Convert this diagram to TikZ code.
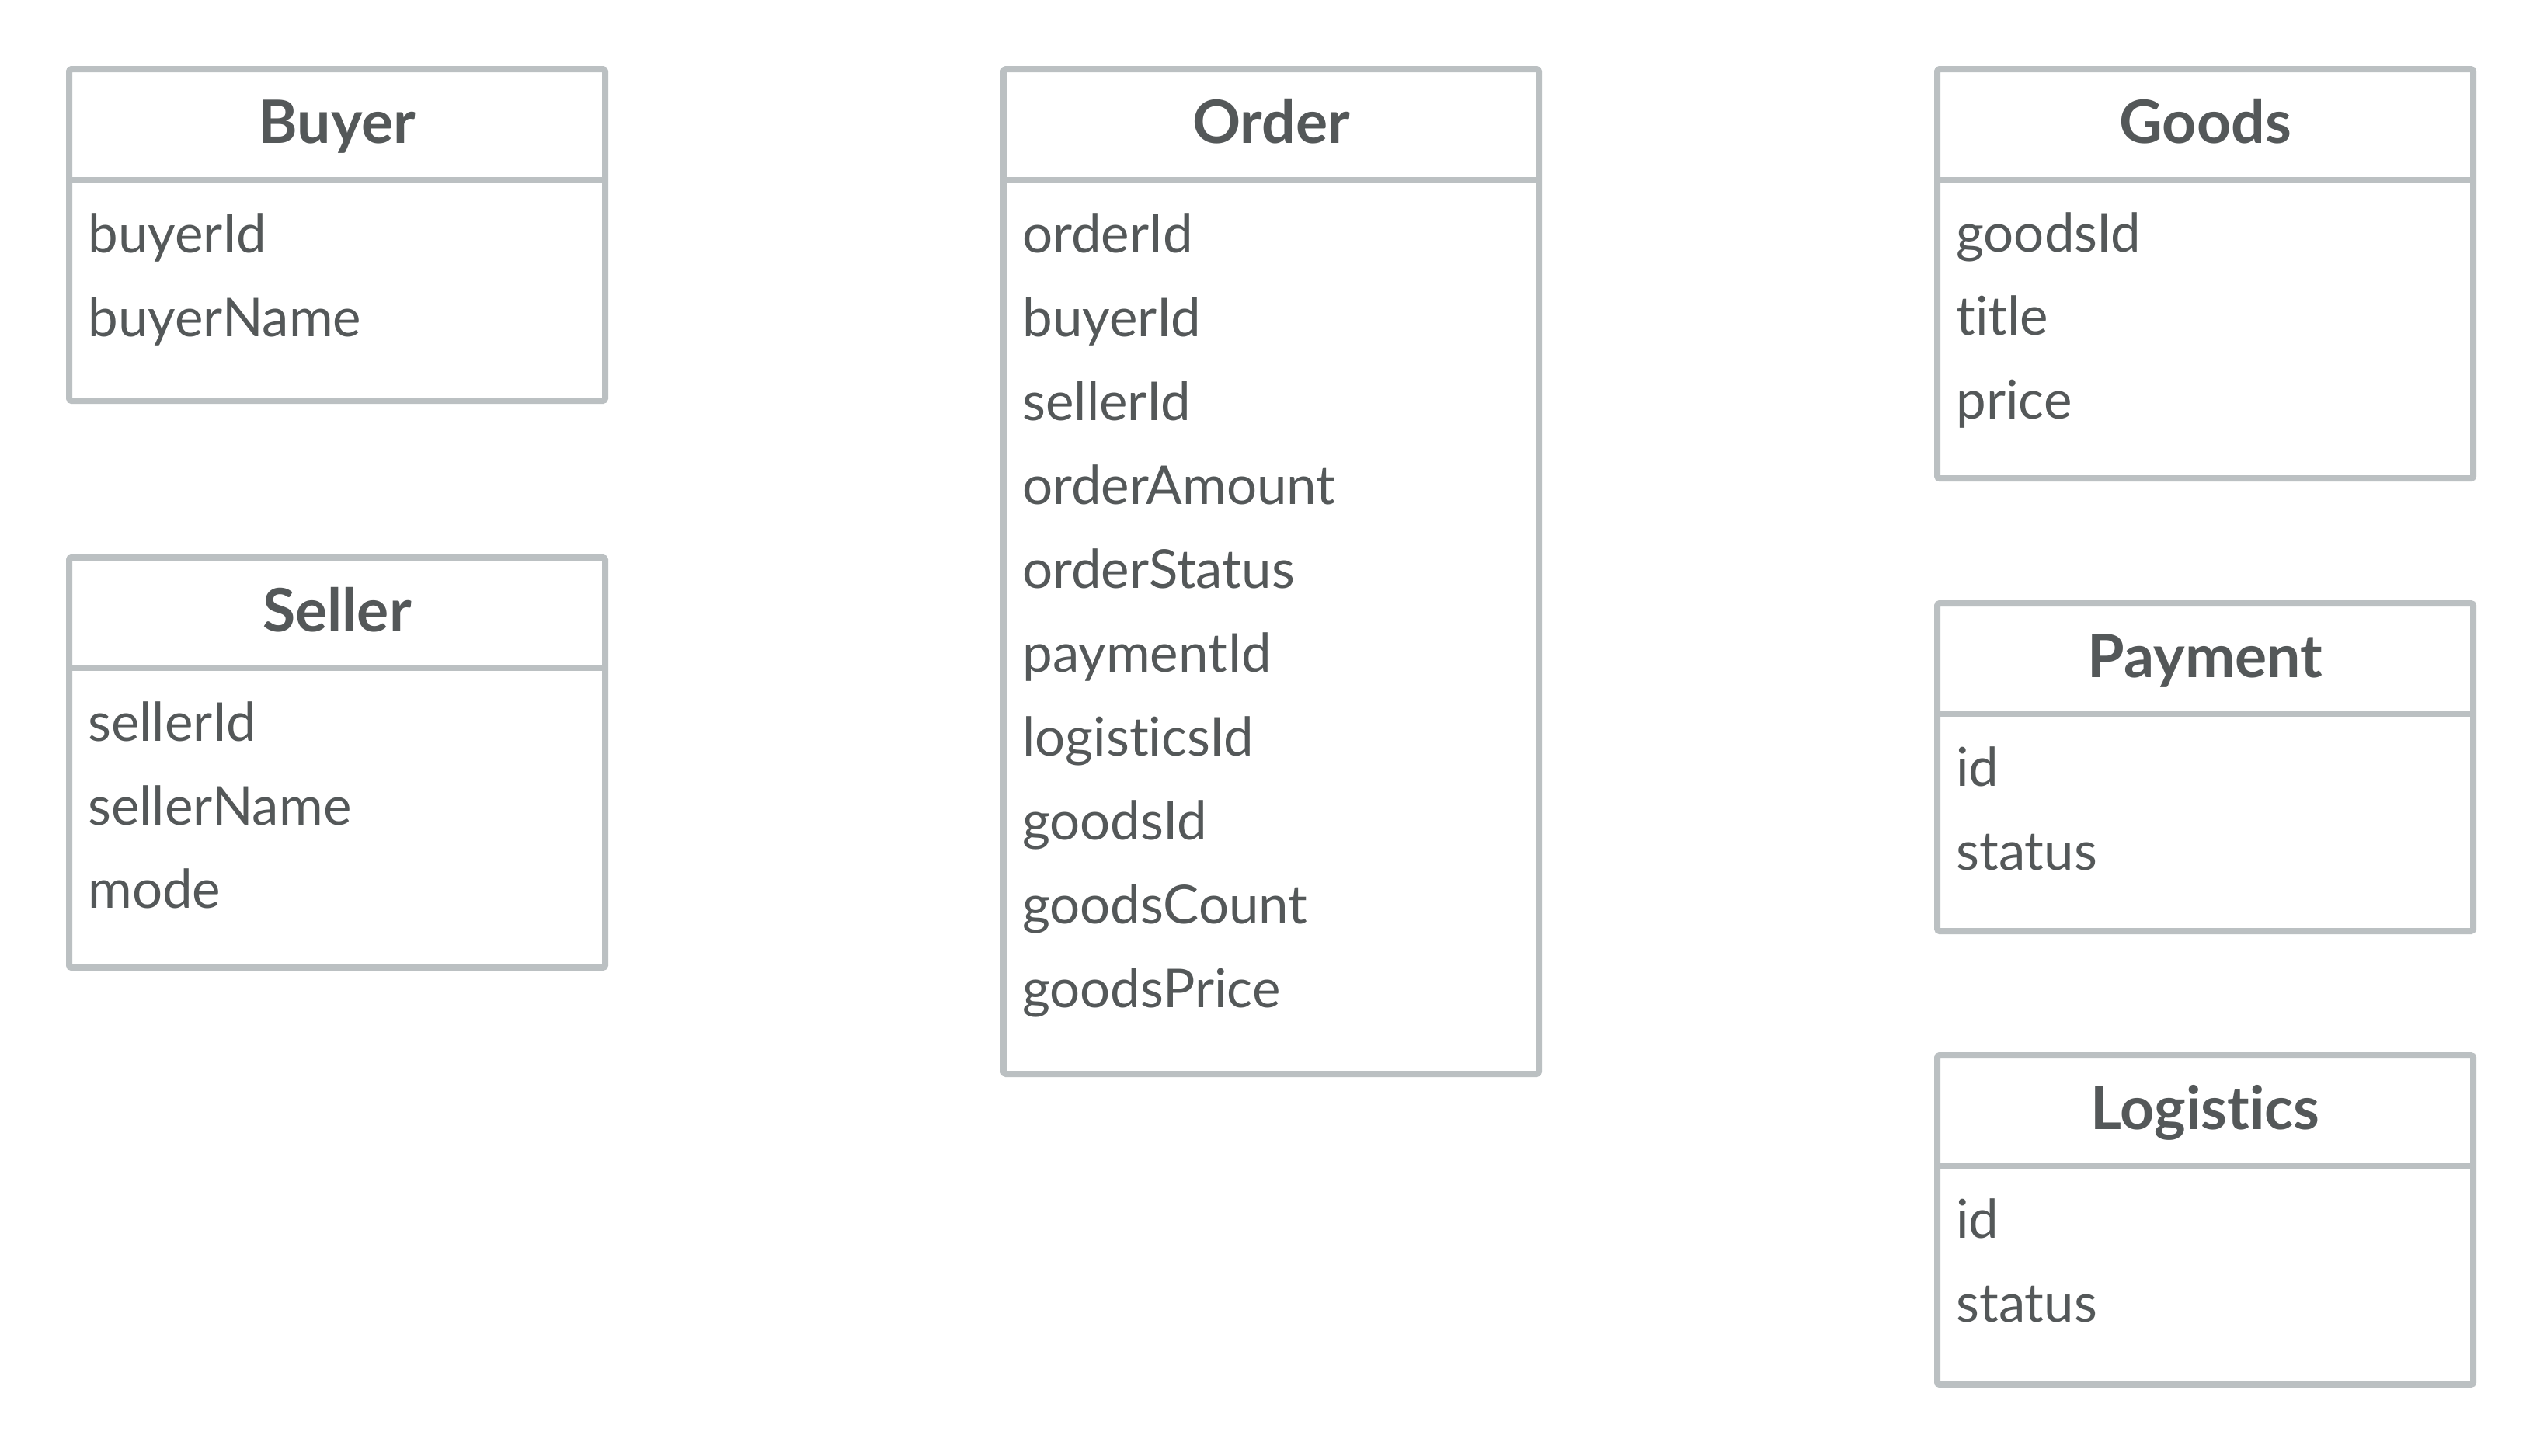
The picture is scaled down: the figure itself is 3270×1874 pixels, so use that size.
\documentclass[tikz,border=0pt]{standalone}
\usepackage{fontspec}
\setmainfont{Lato}[Ligatures={NoCommon,NoDiscretionary}]
\definecolor{bordergray}{HTML}{BBC0C2}
\definecolor{textgray}{HTML}{545859}
\begin{document}
\begin{tikzpicture}[x=0.5pt,y=-0.5pt,
  tbl/.style={draw=bordergray, line width=4pt, rounded corners=1.5pt, fill=white},
  divider/.style={draw=bordergray, line width=4pt},
  title/.style={anchor=base, inner sep=0pt, text=textgray, font=\fontsize{38.5}{46}\selectfont\bfseries},
  field/.style={anchor=base west, inner sep=0pt, text=textgray, font=\fontsize{34.5}{41}\selectfont}]
\fill[white] (0,0) rectangle (3270,1874);
\useasboundingbox (0,0) rectangle (3270,1874);

% Buyer
\draw[tbl] (89,89) rectangle (779,516);
\draw[divider] (89,232) -- (779,232);
\node[title] (buyerT) at (434,184) {Buyer};
\node[field] (buyerF1) at (113,325) {buyerId};
\node[field] (buyerF2) at (113,433) {buyerName};

% Seller
\draw[tbl] (89,718) rectangle (779,1246);
\draw[divider] (89,860) -- (779,860);
\node[title] (sellerT) at (434,813) {Seller};
\node[field] (sellerF1) at (113,954) {sellerId};
\node[field] (sellerF2) at (113,1062) {sellerName};
\node[field] (sellerF3) at (113,1169) {mode};

% Order
\draw[tbl] (1292,89) rectangle (1981,1383);
\draw[divider] (1292,232) -- (1981,232);
\node[title] (orderT) at (1636.5,184) {Order};
\node[field] (orderF1) at (1316,325) {orderId};
\node[field] (orderF2) at (1316,433) {buyerId};
\node[field] (orderF3) at (1316,541) {sellerId};
\node[field] (orderF4) at (1316,649) {orderAmount};
\node[field] (orderF5) at (1316,757) {orderStatus};
\node[field] (orderF6) at (1316,865) {paymentId};
\node[field] (orderF7) at (1316,973) {logisticsId};
\node[field] (orderF8) at (1316,1081) {goodsId};
\node[field] (orderF9) at (1316,1189) {goodsCount};
\node[field] (orderF10) at (1316,1297) {goodsPrice};

% Goods
\draw[tbl] (2494,89) rectangle (3184,616);
\draw[divider] (2494,232) -- (3184,232);
\node[title] (goodsT) at (2839,184) {Goods};
\node[field] (goodsF1) at (2518,324) {goodsId};
\node[field] (goodsF2) at (2518,431) {title};
\node[field] (goodsF3) at (2518,539) {price};

% Payment
\draw[tbl] (2494,777) rectangle (3184,1199);
\draw[divider] (2494,919) -- (3184,919);
\node[title] (paymentT) at (2839,872) {Payment};
\node[field] (paymentF1) at (2518,1012) {id};
\node[field] (paymentF2) at (2518,1120) {status};

% Logistics
\draw[tbl] (2494,1359) rectangle (3184,1783);
\draw[divider] (2494,1502) -- (3184,1502);
\node[title] (logisticsT) at (2839,1454) {Logistics};
\node[field] (logisticsF1) at (2518,1594) {id};
\node[field] (logisticsF2) at (2518,1702) {status};
\end{tikzpicture}
\end{document}
